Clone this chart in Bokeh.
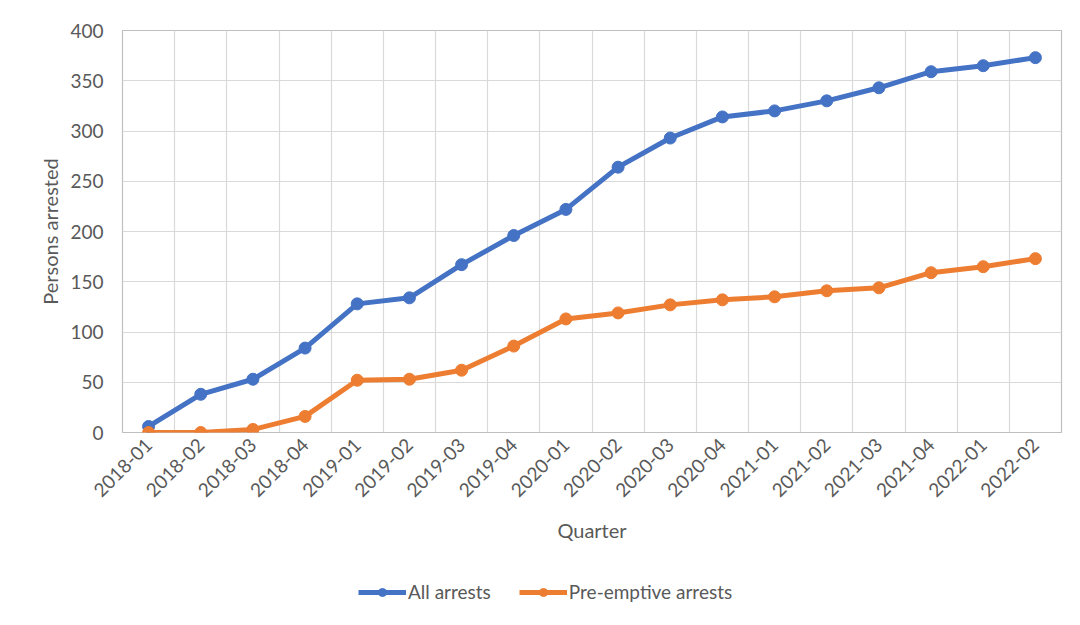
import math
from bokeh.plotting import figure
from bokeh.layouts import column
from bokeh.models import FixedTicker, Legend, LegendItem
from bokeh.embed import file_html
from bokeh.resources import INLINE

quarters = ["2018-01", "2018-02", "2018-03", "2018-04", "2019-01", "2019-02",
            "2019-03", "2019-04", "2020-01", "2020-02", "2020-03", "2020-04",
            "2021-01", "2021-02", "2021-03", "2021-04", "2022-01", "2022-02"]
all_arrests = [6, 38, 53, 84, 128, 134, 167, 196, 222, 264, 293, 314, 320, 330, 343, 359, 365, 373]
preemptive = [0, 0, 3, 16, 52, 53, 62, 86, 113, 119, 127, 132, 135, 141, 144, 159, 165, 173]
y_ticks = [0, 50, 100, 150, 200, 250, 300, 350, 400]
series_names = ["All arrests", "Pre-emptive arrests"]

FONT = "Lato"
TXT = "#595959"
BLUE = "#4472C4"
ORANGE = "#ED7D31"

n = len(quarters)
xs = [i + 0.5 for i in range(n)]

p = figure(width=1080, height=560, output_backend="svg", toolbar_location=None,
           x_range=(0, n), y_range=(0, 400))
p.min_border_left = 122
p.min_border_right = 19
p.min_border_top = 30
p.min_border_bottom = 128
p.outline_line_color = "#bfbfbf"
p.outline_line_width = 1.2
p.background_fill_color = "white"
p.border_fill_color = "white"

p.line(xs, all_arrests, line_color=BLUE, line_width=5)
p.scatter(xs, all_arrests, size=12, fill_color=BLUE, line_color=BLUE)
p.line(xs, preemptive, line_color=ORANGE, line_width=5)
p.scatter(xs, preemptive, size=12, fill_color=ORANGE, line_color=ORANGE)

# axes
p.xaxis.ticker = FixedTicker(ticks=xs)
p.xaxis.major_label_overrides = {x: q for x, q in zip(xs, quarters)}
p.xaxis.major_label_orientation = math.pi / 4
p.yaxis.ticker = FixedTicker(ticks=y_ticks)
for ax in (p.xaxis[0], p.yaxis[0]):
    ax.axis_line_color = None
    ax.major_tick_line_color = None
    ax.minor_tick_line_color = None
    ax.major_tick_out = 0
    ax.major_tick_in = 0
    ax.major_label_text_font = FONT
    ax.major_label_text_font_size = "19px"
    ax.major_label_text_color = TXT
    ax.axis_label_text_font = FONT
    ax.axis_label_text_font_size = "20px"
    ax.axis_label_text_font_style = "normal"
    ax.axis_label_text_color = TXT
p.yaxis.major_label_standoff = 19
p.xaxis.major_label_standoff = 9
p.yaxis.axis_label = "Persons arrested"
p.xaxis.axis_label = "Quarter"
p.yaxis.axis_label_standoff = 5
p.xaxis.axis_label_standoff = 12

# grids
p.xgrid.ticker = FixedTicker(ticks=list(range(n + 1)))
p.ygrid.ticker = FixedTicker(ticks=y_ticks)
p.xgrid.grid_line_color = "#d9d9d9"
p.ygrid.grid_line_color = "#d9d9d9"
p.xgrid.grid_line_width = 1.2
p.ygrid.grid_line_width = 1.2

# legend strip below the chart (series drawn out of view, only legend shows)
lp = figure(width=1080, height=65, output_backend="svg", toolbar_location=None,
            x_range=(0, n), y_range=(1000, 1001))
lp.min_border_left = 0
lp.min_border_right = 0
lp.min_border_top = 0
lp.min_border_bottom = 0
lp.axis.visible = False
lp.grid.visible = False
lp.outline_line_color = None
lp.border_fill_color = "white"
items = []
for name, col, vals in zip(series_names, [BLUE, ORANGE], [all_arrests, preemptive]):
    rl = lp.line(xs, vals, line_color=col, line_width=5)
    rs = lp.scatter(xs, vals, size=12, fill_color=col, line_color=col)
    items.append(LegendItem(label=name, renderers=[rl, rs]))
legend = Legend(items=items, orientation="horizontal", location=(236, 22))
legend.label_text_font = FONT
legend.label_text_font_size = "19px"
legend.label_text_color = TXT
legend.border_line_color = None
legend.background_fill_alpha = 0
legend.glyph_width = 48
legend.label_standoff = 2
legend.spacing = 28
legend.padding = 4
legend.margin = 0
lp.add_layout(legend, "center")

layout = column(p, lp, spacing=0)

open("out.html", "w").write(file_html(layout, INLINE))
